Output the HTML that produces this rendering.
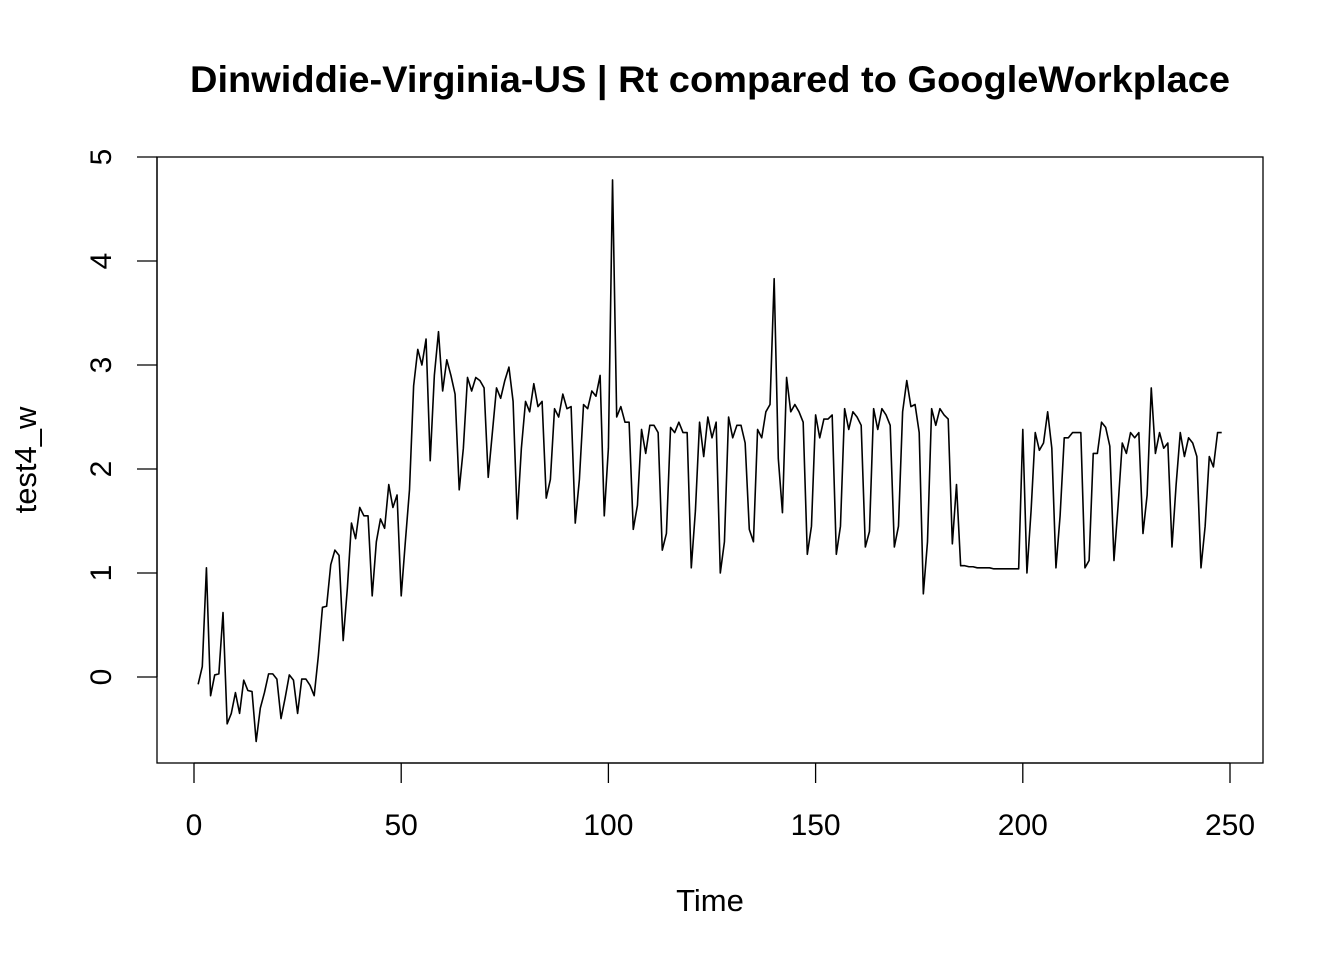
<!DOCTYPE html>
<html><head><meta charset="utf-8"><style>
html,body{margin:0;padding:0;background:#fff;}
svg{display:block;font-family:"Liberation Sans",Arial,sans-serif;}
</style></head><body>
<svg id="chart" width="1344" height="960" viewBox="0 0 1344 960">
<rect width="1344" height="960" fill="#fff"/>
<text x="710" y="92" text-anchor="middle" font-size="37" font-weight="bold" textLength="1040" lengthAdjust="spacingAndGlyphs">Dinwiddie-Virginia-US | Rt compared to GoogleWorkplace</text>
<rect x="157" y="157" width="1106" height="606" fill="none" stroke="#000" stroke-width="1.3"/>
<g id="xaxis"></g>
<g id="yaxis"></g>
<text x="710" y="911" text-anchor="middle" font-size="31">Time</text>
<text transform="translate(36,460) rotate(-90)" text-anchor="middle" font-size="31">test4_w</text>
<path id="series" fill="none" stroke="#000" stroke-width="1.6" stroke-linejoin="round"/>
</svg>
<script>
const xTicks = [0, 50, 100, 150, 200, 250];
const yTicks = [0, 1, 2, 3, 4, 5];
const values = [
-0.07,0.1,1.05,-0.18,0.02,0.03,0.62,-0.45,-0.35,-0.15,-0.35,-0.03,-0.13,-0.14,-0.62,-0.3,-0.15,0.03,0.03,-0.02,
-0.4,-0.2,0.02,-0.03,-0.35,-0.02,-0.02,-0.08,-0.18,0.2,0.67,0.68,1.08,1.22,1.17,0.35,0.85,1.48,1.33,1.63,
1.55,1.55,0.78,1.3,1.52,1.43,1.85,1.63,1.75,0.78,1.3,1.8,2.8,3.15,3.0,3.25,2.08,2.9,3.32,2.75,
3.05,2.9,2.72,1.8,2.2,2.88,2.75,2.88,2.85,2.78,1.92,2.35,2.78,2.68,2.85,2.98,2.65,1.52,2.2,2.65,
2.55,2.82,2.6,2.65,1.72,1.9,2.58,2.5,2.72,2.58,2.6,1.48,1.9,2.62,2.58,2.75,2.7,2.9,1.55,2.2,
4.78,2.5,2.6,2.45,2.45,1.42,1.65,2.38,2.15,2.42,2.42,2.35,1.22,1.38,2.4,2.35,2.45,2.35,2.35,1.05,
1.6,2.45,2.12,2.5,2.3,2.45,1.0,1.3,2.5,2.3,2.42,2.42,2.25,1.42,1.3,2.38,2.3,2.55,2.62,3.83,
2.1,1.58,2.88,2.55,2.62,2.55,2.45,1.18,1.45,2.52,2.3,2.48,2.48,2.52,1.18,1.45,2.58,2.38,2.55,2.5,
2.42,1.25,1.4,2.58,2.38,2.58,2.52,2.42,1.25,1.45,2.55,2.85,2.6,2.62,2.35,0.8,1.3,2.58,2.42,2.58,
2.52,2.48,1.28,1.85,1.07,1.07,1.06,1.06,1.05,1.05,1.05,1.05,1.04,1.04,1.04,1.04,1.04,1.04,1.04,2.38,
1.0,1.6,2.35,2.18,2.25,2.55,2.2,1.05,1.55,2.3,2.3,2.35,2.35,2.35,1.05,1.12,2.15,2.15,2.45,2.4,
2.22,1.12,1.65,2.25,2.15,2.35,2.3,2.35,1.38,1.75,2.78,2.15,2.35,2.2,2.25,1.25,1.85,2.35,2.12,2.3,
2.25,2.12,1.05,1.45,2.12,2.02,2.35,2.35
];
const NS = "http://www.w3.org/2000/svg";
const xs = t => 194 + (t - 0) * (1230 - 194) / 250;
const ys = v => 677 - v * 104;
const xa = document.getElementById('xaxis');
const ya = document.getElementById('yaxis');
function mk(tag, attrs, parent) {
  const e = document.createElementNS(NS, tag);
  for (const k in attrs) e.setAttribute(k, attrs[k]);
  parent.appendChild(e);
  return e;
}
mk('line', {x1: xs(xTicks[0]), x2: xs(xTicks[xTicks.length-1]), y1: 763, y2: 763, stroke: '#000', 'stroke-width': 1.3}, xa);
xTicks.forEach(t => {
  const l = mk('line', {x1: xs(t), x2: xs(t), y1: 763, y2: 783, stroke: '#000', 'stroke-width': 1.3}, xa);
  
  
  const tx = mk('text', {x: xs(t), y: 835, 'text-anchor': 'middle', 'font-size': 30}, xa);
  tx.textContent = t;
  
  
});
mk('line', {x1: 157, x2: 157, y1: ys(yTicks[0]), y2: ys(yTicks[yTicks.length-1]), stroke: '#000', 'stroke-width': 1.3}, ya);
yTicks.forEach(v => {
  const l = mk('line', {x1: 137, x2: 157, y1: ys(v), y2: ys(v), stroke: '#000', 'stroke-width': 1.3}, ya);
  
  
  const tx = mk('text', {transform: `translate(111,${ys(v)}) rotate(-90)`, 'text-anchor': 'middle', 'font-size': 30}, ya);
  tx.textContent = v;
  
  
});
let d = '';
values.forEach((v, i) => { d += (i ? 'L' : 'M') + xs(i + 1).toFixed(2) + ',' + ys(v).toFixed(2); });
document.getElementById('series').setAttribute('d', d);
</script>
</body></html>
